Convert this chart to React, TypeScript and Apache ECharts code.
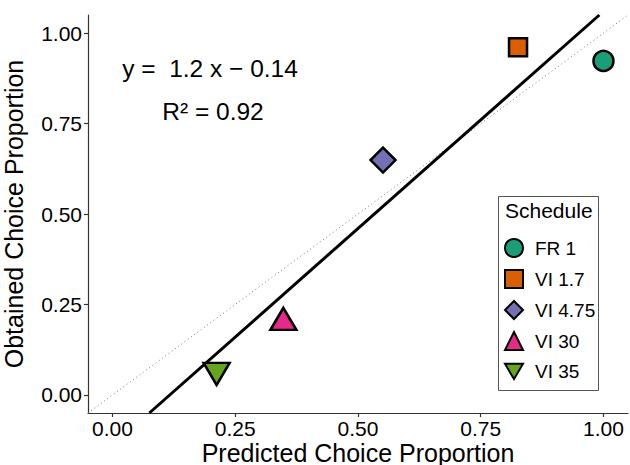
import React, { useEffect, useRef } from "react";
import * as echarts from "echarts";

const schedules = ["FR 1", "VI 1.7", "VI 4.75", "VI 30", "VI 35"];
const predicted = [1.0, 0.826, 0.551, 0.348, 0.212];
const obtained = [0.923, 0.961, 0.649, 0.21, 0.058];
const colors = ["#1B9E77", "#D95F02", "#7570B3", "#E7298A", "#66A61E"];
const symbols = ["circle", "rect", "diamond", "triangle", "triangle"];
const symbolRotations = [0, 0, 0, 0, 180];
const symbolSizes: any[] = [20, 18, 25, [26, 22], [26, 22]];
const tickValues = [0, 0.25, 0.5, 0.75, 1.0];
const slope = 1.2;
const intercept = -0.14;
const axisMin = -0.05;
const axisMax = 1.05;

const FONT = "'Liberation Sans', Arial, Helvetica, sans-serif";
const DOWN_TRIANGLE = "path://M0,0 L20,0 L10,17 Z";

export default function App() {
  const ref = useRef<HTMLDivElement>(null);
  useEffect(() => {
    if (!ref.current) return;
    document.body.style.margin = "0";
    const chart = echarts.init(ref.current, null, { renderer: "svg" });

    const x0 = Math.max(axisMin, (axisMin - intercept) / slope);
    const x1 = Math.min(axisMax, (axisMax - intercept) / slope);
    const regLine = [
      [x0, slope * x0 + intercept],
      [x1, slope * x1 + intercept],
    ];

    const axisCommon = {
      type: "value",
      min: axisMin,
      max: axisMax,
      splitLine: { show: false },
      axisLine: { show: true, onZero: false, lineStyle: { color: "#333", width: 1.2 } },
      axisTick: { show: true, length: 4, customValues: tickValues, lineStyle: { color: "#333", width: 1.2 } },
      axisLabel: {
        customValues: tickValues,
        formatter: (v: number) => v.toFixed(2),
        color: "#000",
        fontSize: 21,
        lineHeight: 18,
        fontFamily: FONT,
        margin: 6,
      },
      nameLocation: "middle",
      nameMoveOverlap: false,
      nameTextStyle: { color: "#000", fontSize: 25, lineHeight: 23, fontFamily: FONT },
    };

    const scatterSeries = schedules.map((name, i) => ({
      name,
      type: "scatter",
      data: [[predicted[i], obtained[i]]],
      symbol: symbols[i],
      symbolSize: symbolSizes[i],
      symbolRotate: symbolRotations[i],
      itemStyle: { color: colors[i], borderColor: "#000", borderWidth: 2.5, opacity: 1 },
      z: 5,
    }));

    chart.setOption({
      animation: false,
      grid: { left: 88, right: 2, top: 15, bottom: 52, outerBoundsMode: "none", containLabel: false },
      xAxis: { ...axisCommon, name: "Predicted Choice Proportion", nameGap: 28 },
      yAxis: { ...axisCommon, name: "Obtained Choice Proportion", nameGap: 63 },
      legend: {
        data: schedules.map((name, i) =>
          symbolRotations[i] === 180 ? { name, icon: DOWN_TRIANGLE } : { name }
        ),
        orient: "vertical",
        left: 504,
        top: 238,
        padding: 0,
        itemWidth: 18,
        itemHeight: 18,
        itemGap: 11,
        itemStyle: { borderColor: "#000", borderWidth: 2 },
        textStyle: { color: "#000", fontSize: 19, fontFamily: FONT, lineHeight: 18, padding: [0, 0, 0, 7] },
      },
      graphic: [
        {
          type: "rect",
          shape: { x: 498.5, y: 196.5, width: 100, height: 194 },
          style: { fill: "#fff", stroke: "#555", lineWidth: 1 },
          z: 0,
          silent: true,
        },
        {
          type: "text",
          left: 505,
          top: 200,
          style: { text: "Schedule", fill: "#000", fontSize: 21, fontFamily: FONT },
          z: 1,
        },
        {
          type: "text",
          x: 210,
          y: 68,
          style: {
            text: "y =  1.2 x \u2212 0.14",
            fill: "#000",
            fontSize: 24.5,
            fontFamily: FONT,
            align: "center",
            verticalAlign: "middle",
          },
        },
        {
          type: "text",
          x: 213,
          y: 111,
          style: {
            text: "R\u00B2 = 0.92",
            fill: "#000",
            fontSize: 24.5,
            fontFamily: FONT,
            align: "center",
            verticalAlign: "middle",
          },
        },
      ],
      series: [
        {
          type: "line",
          data: [
            [axisMin, axisMin],
            [axisMax, axisMax],
          ],
          symbol: "none",
          lineStyle: { color: "#777", width: 1, type: [1, 3] },
          z: 1,
          silent: true,
        },
        {
          type: "line",
          data: regLine,
          symbol: "none",
          lineStyle: { color: "#000", width: 3 },
          z: 2,
          silent: true,
        },
        ...scatterSeries,
      ],
    });
    return () => chart.dispose();
  }, []);
  return <div ref={ref} style={{ width: 630, height: 465 }} />;
}
